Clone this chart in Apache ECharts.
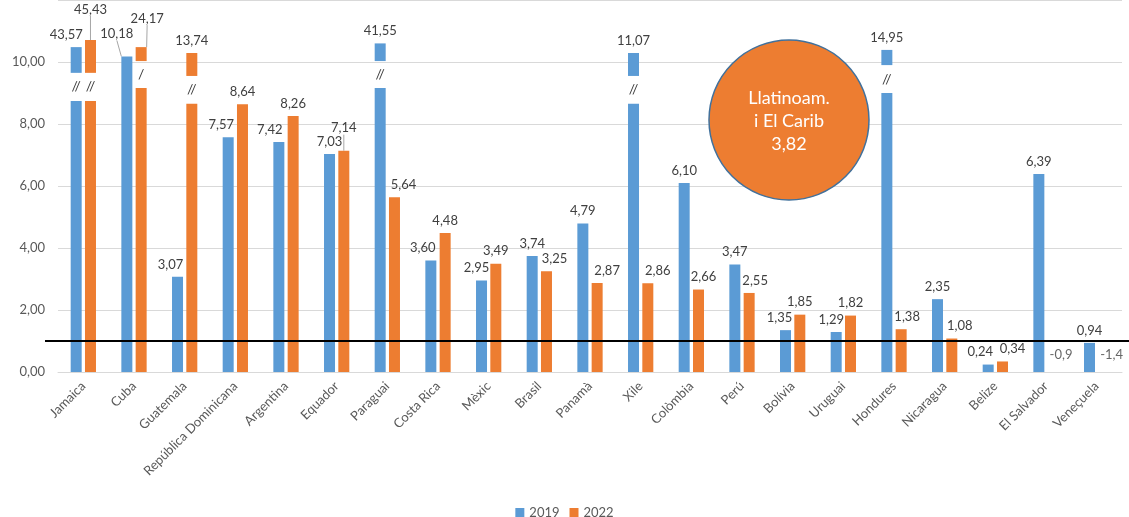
<!DOCTYPE html>
<html>
<head>
    <meta charset="utf-8">
    <title>ECharts</title>
    <script src="https://cdn.jsdelivr.net/npm/echarts@6/dist/echarts.min.js"></script>
    <style>
        html, body { margin: 0; padding: 0; background: #fff; }
    </style>
</head>
<body>
<div id="main" style="width: 1129px;height:517px;"></div>
<script type="text/javascript">
    // categories and values
    var categories = ['Jamaica', 'Cuba', 'Guatemala', 'República Dominicana', 'Argentina', 'Equador', 'Paraguai',
        'Costa Rica', 'Mèxic', 'Brasil', 'Panamà', 'Xile', 'Colòmbia', 'Perú', 'Bolívia', 'Uruguai',
        'Hondures', 'Nicaragua', 'Belize', 'El Salvador', 'Veneçuela'];
    var values2019 = [43.57, 10.18, 3.07, 7.57, 7.42, 7.03, 41.55, 3.60, 2.95, 3.74, 4.79, 11.07, 6.10, 3.47,
        1.35, 1.29, 14.95, 2.35, 0.24, 6.39, 0.94];
    var values2022 = [45.43, 24.17, 13.74, 8.64, 8.26, 7.14, 5.64, 4.48, 3.49, 3.25, 2.87, 2.86, 2.66, 2.55,
        1.85, 1.82, 1.38, 1.08, 0.34, -0.9, -1.4];
    var yTicks = [0, 2, 4, 6, 8, 10];
    var referenceLevel = 1;
    var regionLabel = 'Llatinoam.\ni El Carib\n3,82';

    // truncated bars: [top of lower piece, bottom of upper piece, top of upper piece] in axis units
    var cut2019 = { 'Jamaica': [8.74, 9.65, 10.48], 'Paraguai': [9.16, 10.03, 10.6], 'Xile': [8.65, 9.55, 10.29], 'Hondures': [9.0, 9.9, 10.39] };
    var cut2022 = { 'Jamaica': [8.74, 9.65, 10.71], 'Cuba': [9.16, 10.03, 10.48], 'Guatemala': [8.65, 9.55, 10.29] };
    var cutMark = { 'Cuba': '/' };

    // label nudges (px) and leader lines, copied from how the labels sit in the original
    var nudge2019 = { 'Jamaica': [-10, 0], 'Cuba': [-10, -10], 'Guatemala': [-7, 0], 'República Dominicana': [-7, 0],
        'Argentina': [-9, 0], 'Costa Rica': [-8, 0], 'Mèxic': [-5, 0], 'Bolívia': [-6, 0], 'Uruguai': [-5, 0], 'Belize': [-8, 0] };
    var nudge2022 = { 'Jamaica': [0, -18], 'Cuba': [6, -16], 'Equador': [0, -10], 'Paraguai': [9, 0], 'Panamà': [10, 0],
        'Xile': [10, 0], 'Colòmbia': [5, 0], 'Perú': [6, 0], 'Hondures': [6, 0], 'Brasil': [8, 0], 'Nicaragua': [8, 0], 'Belize': [10, 0] };
    var lead2019 = ['Cuba'];
    var lead2022 = ['Jamaica', 'Cuba', 'Equador'];

    var blue = '#5B9BD5', orange = '#ED7D31', textColor = '#404040', axisColor = '#595959';
    var font = 'Lato, "Open Sans", sans-serif';

    function fmt(v) {
        return v < 0 ? v.toFixed(1).replace('.', ',') : v.toFixed(2).replace('.', ',');
    }

    function makeSeries(year, vals, cuts, color, nudge, lead) {
        var stack = 's' + year;
        var labelBase = { show: true, position: 'top', distance: 6, color: textColor, fontSize: 13, fontFamily: font,
            formatter: function (p) { return fmt(vals[p.dataIndex]); } };
        var layout = function (p) {
            var n = nudge[categories[p.dataIndex]] || [0, 0];
            return { dx: n[0], dy: n[1] };
        };
        var base = vals.map(function (v, i) {
            var c = cuts[categories[i]];
            if (v < 0) return '-';
            if (c) return { value: c[0], label: { show: false } };
            return { value: v, labelLine: { show: lead.indexOf(categories[i]) >= 0 } };
        });
        var gap = vals.map(function (v, i) {
            var c = cuts[categories[i]];
            return c ? +(c[1] - c[0]).toFixed(2) : '-';
        });
        var cap = vals.map(function (v, i) {
            var c = cuts[categories[i]];
            return c ? { value: +(c[2] - c[1]).toFixed(2), labelLine: { show: lead.indexOf(categories[i]) >= 0 } } : '-';
        });
        var common = { type: 'bar', stack: stack, barWidth: 11, barGap: '30%', animation: false };
        return [
            Object.assign({}, common, {
                name: year, data: base, itemStyle: { color: color }, label: labelBase, labelLayout: layout,
                labelLine: { show: false, lineStyle: { color: '#a6a6a6', width: 1 } }
            }),
            Object.assign({}, common, {
                name: year + ' tall', data: gap, itemStyle: { color: 'rgba(0,0,0,0)' },
                label: { show: true, position: 'inside', color: textColor, fontSize: 14, fontFamily: font,
                    formatter: function (p) { return cutMark[categories[p.dataIndex]] || '//'; } }
            }),
            Object.assign({}, common, {
                name: year + ' ', data: cap, itemStyle: { color: color }, label: labelBase, labelLayout: layout,
                labelLine: { show: false, lineStyle: { color: '#a6a6a6', width: 1 } }
            })
        ];
    }

    var myChart = echarts.init(document.getElementById('main'));

    var negatives = [];
    values2022.forEach(function (v, i) { if (v < 0) negatives.push([i, 0, v]); });

    var series = makeSeries('2019', values2019, cut2019, blue, nudge2019, lead2019)
        .concat(makeSeries('2022', values2022, cut2022, orange, nudge2022, lead2022));
    series.push({
        name: 'negatius', type: 'scatter', symbolSize: 0, data: negatives, animation: false,
        label: { show: true, position: 'top', offset: [15, -6], color: textColor, fontSize: 13, fontFamily: font,
            formatter: function (p) { return fmt(p.data[2]); } }
    });

    var option = {
        backgroundColor: '#fff',
        textStyle: { fontFamily: font },
        grid: { left: 58, right: 7, top: -1, bottom: 145 },
        legend: {
            data: ['2019', '2022'], bottom: -7, left: 'center', itemWidth: 9, itemHeight: 9, itemGap: 10,
            icon: 'rect', textStyle: { color: axisColor, fontSize: 13, fontFamily: font }
        },
        xAxis: {
            type: 'category', data: categories,
            axisTick: { show: false },
            axisLine: { lineStyle: { color: '#D9D9D9' } },
            axisLabel: { rotate: 45, interval: 0, margin: 12, color: axisColor, fontSize: 13, fontFamily: font }
        },
        yAxis: {
            type: 'value', min: yTicks[0], max: 12, interval: yTicks[1] - yTicks[0],
            axisLabel: { color: axisColor, fontSize: 13, fontFamily: font, margin: 13, showMaxLabel: false,
                formatter: function (v) { return v.toFixed(2).replace('.', ','); } },
            splitLine: { lineStyle: { color: '#D9D9D9' } }
        },
        series: series
    };

    myChart.setOption(option);

    // reference line at 1 and the regional average bubble
    var yRef = myChart.convertToPixel({ yAxisIndex: 0 }, referenceLevel);
    myChart.setOption({
        graphic: [{
            type: 'line', z: 100,
            shape: { x1: 45, y1: yRef, x2: 1129, y2: yRef },
            style: { stroke: '#000', lineWidth: 2 }
        }, {
            type: 'circle', z: 100,
            shape: { cx: 789, cy: 120, r: 80 },
            style: { fill: orange, stroke: '#41719C', lineWidth: 1.5 }
        }, {
            type: 'text', z: 101, x: 789, y: 121,
            style: { text: regionLabel, fill: '#fff', fontSize: 18, fontFamily: font, lineHeight: 23,
                align: 'center', verticalAlign: 'middle' }
        }]
    });
</script>
</body>
</html>
